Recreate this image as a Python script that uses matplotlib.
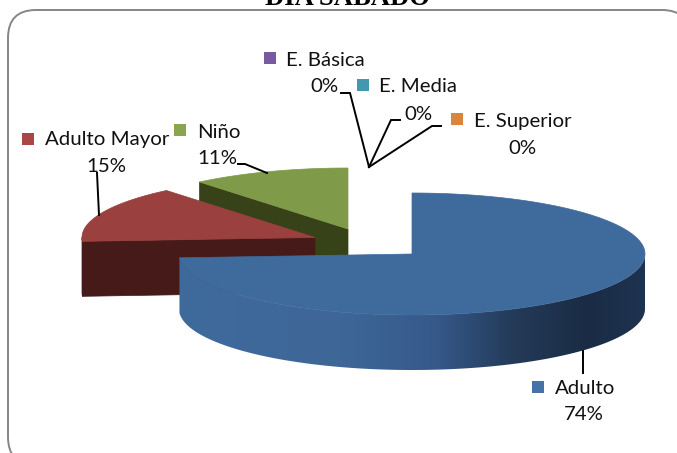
import numpy as np
import matplotlib
matplotlib.use("Agg")
import matplotlib.pyplot as plt
from matplotlib.colors import LinearSegmentedColormap
from matplotlib.patches import FancyBboxPatch, Polygon, Rectangle

# slices, same order as the chart (clockwise from 12 o'clock)
categories = ["Adulto", "Adulto Mayor", "Niño", "E. Básica", "E. Media", "E. Superior"]
percents = [74, 15, 11, 0, 0, 0]
title = "DIA SABADO"

top_colors = ["#3F6A9C", "#9A403E", "#7F9A48"]
side_colors = ["#3F6A9C", "#451A18", "#384219"]
key_colors = ["#4572A7", "#AA4643", "#89A54E", "#775A9F", "#4198AF", "#DB843D"]

# pie centre of each slice (the slices are pulled apart)
centers = [(412, 254), (315, 237.5), (348, 229)]
RX, RY, DEPTH = 233, 61, 55

# name x,y (left), percent x,y (centre), key x,y (left top)
name_pos = [(555, 388), (45, 140), (197, 133), (286, 60), (379, 87), (474, 120)]
pct_pos = [(584, 415), (106, 167), (217, 158), (324, 87), (418, 114), (522, 148)]
key_pos = [(532, 381), (22, 133), (174, 124), (264, 52), (357, 79), (451, 113)]

leaders = [
    [(583, 351), (583, 373)],
    [(97, 173), (99, 215)],
    [(238, 164), (245, 164), (267, 173)],
    [(341, 93), (350, 93), (369, 167)],
    [(369, 167), (391, 120), (400, 120)],
    [(369, 167), (432, 126), (441, 126)],
]


def ellipse(c, t):
    t = np.radians(t)
    return np.column_stack([c[0] + RX * np.sin(t), c[1] - RY * np.cos(t)])


fig = plt.figure(figsize=(6.77, 4.53), dpi=100)
ax = fig.add_axes([0, 0, 1, 1])
ax.axis("off")

ax.add_patch(FancyBboxPatch((8, 10), 682, 455, boxstyle="round,pad=0,rounding_size=28",
                            fc="white", ec="#868686", lw=1.4))

ax.text(347, 5, title, family="Liberation Serif", weight="bold", fontsize=19.2,
        ha="center", va="baseline", color="black", clip_on=False)

edges = np.cumsum([0] + percents[:3]) / 100 * 360

# back slices first, Adulto goes last since it sits in front
for i in [2, 1, 0]:
    c = centers[i]
    t0, t1 = edges[i], edges[i + 1]

    # cut face at the start of the slice
    if i:
        p = ellipse(c, t0)[0]
        ax.add_patch(Polygon([c, p, (p[0], p[1] + DEPTH), (c[0], c[1] + DEPTH)],
                             fc=side_colors[i], ec=side_colors[i], lw=0.5))

    # outer wall, only the part looking at the viewer
    a, b = max(t0, 90), min(t1, 270)
    if b > a:
        arc = ellipse(c, np.linspace(a, b, 200))
        wall = np.vstack([arc, arc[::-1] + [0, DEPTH]])
        if i == 0:
            cmap = LinearSegmentedColormap.from_list(
                "wall", [(0, "#3F6A9C"), (0.35, "#3E6797"), (0.55, "#36598A"),
                         (0.72, "#233A58"), (0.88, "#1A2C44"), (1, "#1E3350")])
            patch = Polygon(wall, fc="none", ec="none")
            ax.add_patch(patch)
            im = ax.imshow(np.linspace(0, 1, 256)[None, :], cmap=cmap, aspect="auto",
                           extent=[arc[:, 0].min(), arc[:, 0].max(), 453, 0], zorder=1)
            im.set_clip_path(patch)
        else:
            ax.add_patch(Polygon(wall, fc=side_colors[i], ec=side_colors[i], lw=0.5))

    # top surface
    arc = ellipse(c, np.linspace(t0, t1, 200))
    ax.add_patch(Polygon(np.vstack([[c], arc]), fc=top_colors[i], ec=top_colors[i], lw=0.5))

for line in leaders:
    xs, ys = zip(*line)
    ax.plot(xs, ys, color="black", lw=1.4, solid_joinstyle="miter")

for i, name in enumerate(categories):
    ax.add_patch(Rectangle(key_pos[i], 12, 12, fc=key_colors[i], ec="none"))
    ax.text(name_pos[i][0], name_pos[i][1] + (2 if i == 5 else 0), name, family="Lato", fontsize=14.7,
            ha="left", va="center", color="#111111")
    ax.text(pct_pos[i][0], pct_pos[i][1], f"{percents[i]}%", family="Lato", fontsize=14.7,
            ha="center", va="center", color="#111111")

ax.set_xlim(0, 677)
ax.set_ylim(453, 0)
fig.savefig("out.png", dpi=100)
